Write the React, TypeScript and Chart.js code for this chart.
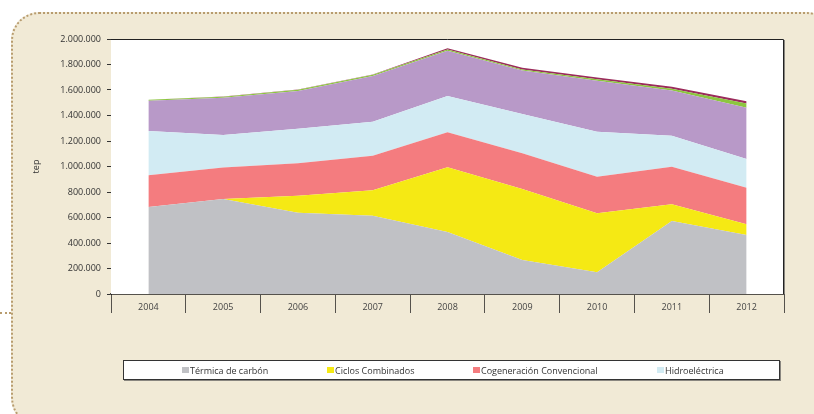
import React, { useEffect, useRef } from "react";
import { Chart, registerables } from "chart.js";

Chart.register(...registerables);

const years = ["2004", "2005", "2006", "2007", "2008", "2009", "2010", "2011", "2012"];

const carbon = [682000, 745000, 638000, 614000, 486000, 267000, 170000, 573000, 463000];
const ciclos = [0, 0, 133000, 199000, 508000, 557000, 463000, 130000, 84000];
const cogeneracion = [249000, 248000, 254000, 272000, 274000, 279000, 287000, 295000, 287000];
const hidro = [347000, 254000, 272000, 266000, 285000, 309000, 353000, 244000, 225000];
const otrasA = [238000, 293000, 295000, 358000, 355000, 340000, 400000, 355000, 402000];
const otrasB = [7000, 8000, 10000, 11000, 9000, 9000, 11000, 13000, 33000];
const otrasC = [0, 1000, 2000, 2000, 11000, 14000, 15000, 15000, 18000];

const seriesNames = [
  "Térmica de carbón",
  "Ciclos Combinados",
  "Cogeneración Convencional",
  "Hidroeléctrica",
  "Otras A",
  "Otras B",
  "Otras C",
];
const seriesValues = [carbon, ciclos, cogeneracion, hidro, otrasA, otrasB, otrasC];
const seriesColors = ["#c0c1c5", "#f5e914", "#f47c7f", "#d2ebf3", "#b899c8", "#8cc63f", "#9b2b5b"];
const legendCount = 4;

const yMin = 0;
const yMax = 2000000;
const yStep = 200000;
const yTitle = "tep";

const fmt = (v: number) => String(v).replace(/\B(?=(\d{3})+(?!\d))/g, ".");

const FONT = "'Open Sans', 'Noto Sans', sans-serif";

export default function App() {
  const ref = useRef<HTMLCanvasElement | null>(null);

  useEffect(() => {
    if (!ref.current) return;
    const framePlugin = {
      id: "frame",
      beforeDatasetsDraw(chart: any) {
        const { ctx, chartArea } = chart;
        ctx.save();
        ctx.fillStyle = "#ffffff";
        ctx.fillRect(chartArea.left, chartArea.top, chartArea.right - chartArea.left, chartArea.bottom - chartArea.top);
        ctx.restore();
      },
      afterDatasetsDraw(chart: any) {
        const { ctx, chartArea } = chart;
        ctx.save();
        ctx.lineWidth = 1;
        ctx.strokeStyle = "#222222";
        ctx.beginPath();
        ctx.moveTo(chartArea.left, chartArea.top + 0.5);
        ctx.lineTo(chartArea.right - 0.5, chartArea.top + 0.5);
        ctx.lineTo(chartArea.right - 0.5, chartArea.bottom);
        ctx.stroke();
        ctx.strokeStyle = "#8a8780";
        ctx.beginPath();
        ctx.moveTo(chartArea.right + 0.5, chartArea.top + 1);
        ctx.lineTo(chartArea.right + 0.5, chartArea.bottom);
        ctx.stroke();
        ctx.restore();
      },
    };

    const chart = new Chart(ref.current, {
      type: "line",
      data: {
        labels: years,
        datasets: seriesValues.map((vals, i) => ({
          label: seriesNames[i],
          data: vals,
          backgroundColor: seriesColors[i],
          borderColor: seriesColors[i],
          borderWidth: 0,
          pointRadius: 0,
          pointHoverRadius: 0,
          tension: 0,
          fill: i === 0 ? "origin" : "-1",
        })),
      },
      options: {
        animation: false,
        responsive: false,
        devicePixelRatio: 1,
        layout: { padding: { top: 39, right: 30, left: 0, bottom: 0 } },
        plugins: { legend: { display: false }, tooltip: { enabled: false } },
        scales: {
          x: {
            type: "category",
            offset: true,
            grid: {
              offset: true,
              drawOnChartArea: false,
              drawTicks: true,
              tickLength: 19,
              color: "#55524c",
              lineWidth: 1,
            },
            border: { display: true, color: "#55524c", width: 2 },
            ticks: {
              padding: -11,
              color: "#444444",
              maxRotation: 0,
              font: { family: FONT, size: 9 },
            },
            afterFit: (s: any) => {
              s.height = 120;
            },
          },
          y: {
            stacked: true,
            min: yMin,
            max: yMax,
            ticks: {
              stepSize: yStep,
              padding: 6,
              color: "#333333",
              font: { family: FONT, size: 9 },
              callback: (v: any) => fmt(Number(v)),
            },
            grid: {
              drawOnChartArea: false,
              drawTicks: true,
              tickLength: 4,
              color: "#333333",
            },
            border: { display: true, color: "#222222", width: 1 },
            title: {
              display: true,
              text: yTitle,
              color: "#333333",
              font: { family: FONT, size: 9 },
              padding: { top: 31, bottom: 0 },
            },
            afterFit: (s: any) => {
              s.width = 111;
            },
          },
        },
      },
      plugins: [framePlugin],
    } as any);
    return () => chart.destroy();
  }, []);

  const legendX = [58, 203, 349, 533];

  return (
    <div style={{ position: "absolute", left: 0, top: 0, width: 814, height: 414, overflow: "hidden", background: "#ffffff" }}>
      <div
        style={{
          position: "absolute",
          left: 11,
          top: 12,
          width: 820,
          height: 410,
          background: "#f1ead6",
          border: "2px dotted #b89c6e",
          borderRadius: 28,
        }}
      />
      <div style={{ position: "absolute", left: 0, top: 312, width: 11, borderTop: "2px dotted #b89c6e" }} />
      <canvas ref={ref} width={814} height={414} style={{ position: "absolute", left: 0, top: 0, width: 814, height: 414 }} />
      <div
        style={{
          position: "absolute",
          left: 123,
          top: 360,
          width: 655,
          height: 18,
          background: "#ffffff",
          border: "1px solid #333333",
          boxShadow: "1px 1px 0 #8a8780",
          fontFamily: FONT,
          fontSize: 9,
          color: "#333333",
        }}
      >
        {seriesNames.slice(0, legendCount).map((name, i) => (
          <div
            key={name}
            style={{ position: "absolute", left: legendX[i], top: 0, height: 18, display: "flex", alignItems: "center", whiteSpace: "nowrap" }}
          >
            <span style={{ display: "inline-block", width: 7, height: 6, background: seriesColors[i], marginRight: 1 }} />
            <span>{name}</span>
          </div>
        ))}
      </div>
    </div>
  );
}
